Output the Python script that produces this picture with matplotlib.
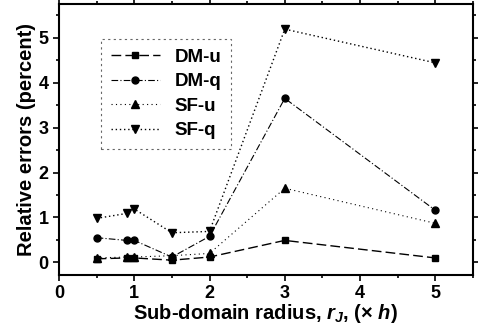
import numpy as np
import matplotlib.pyplot as plt
from matplotlib.ticker import MultipleLocator

plt.rcParams['font.family'] = ['Liberation Sans', 'DejaVu Sans']
plt.rcParams['font.weight'] = 'bold'
plt.rcParams['axes.labelweight'] = 'bold'
plt.rcParams['mathtext.fontset'] = 'custom'
plt.rcParams['mathtext.rm'] = 'Liberation Sans:bold'
plt.rcParams['mathtext.it'] = 'Liberation Sans:italic:bold'

# data
radius = [0.5, 0.9, 1.0, 1.5, 2.0, 3.0, 5.0]
dm_u = [0.08, 0.10, 0.10, 0.05, 0.12, 0.49, 0.10]
dm_q = [0.55, 0.49, 0.49, 0.12, 0.58, 3.65, 1.16]
sf_u = [0.10, 0.12, 0.12, 0.15, 0.20, 1.65, 0.87]
sf_q = [0.98, 1.09, 1.19, 0.66, 0.69, 5.19, 4.44]

fig = plt.figure(figsize=(4.78, 3.25), dpi=100)
ax = fig.add_axes([0.1234, 0.1538, 0.866, 0.834])

ax.plot(radius, dm_u, color='k', marker='s', ms=4, lw=1, ls=(0, (7, 3)), label='DM-u')
ax.plot(radius, dm_q, color='k', marker='o', ms=5, lw=0.8, ls=(0, (6, 2, 1, 2)), label='DM-q')
ax.plot(radius, sf_u, color='k', marker='^', ms=6, lw=0.8, ls=(0, (1, 3)), label='SF-u')
ax.plot(radius, sf_q, color='k', marker='v', ms=6, lw=1, ls=(0, (1, 2)), label='SF-q')

ax.set_xlim(0, 5.5)
ax.set_ylim(-0.28, 5.75)
ax.xaxis.set_major_locator(MultipleLocator(1))
ax.xaxis.set_minor_locator(MultipleLocator(0.5))
ax.yaxis.set_major_locator(MultipleLocator(1))
ax.yaxis.set_minor_locator(MultipleLocator(0.5))
ax.tick_params(which='both', top=True, right=True, width=1.2)
ax.tick_params(which='major', length=4, labelsize=13)
ax.tick_params(which='minor', length=2)
for lab in ax.get_xticklabels() + ax.get_yticklabels():
    lab.set_fontweight('bold')
for s in ax.spines.values():
    s.set_linewidth(1.5)

ax.set_xlabel('Sub-domain radius, $r_J$, (\u00d7 $h$)', fontsize=14.5, labelpad=0)
ax.set_ylabel('Relative errors (percent)', fontsize=14.5, labelpad=2)

leg = ax.legend(loc='upper left', bbox_to_anchor=(0.08, 0.905), fontsize=13.5,
                handlelength=2.6, labelspacing=0.4, borderpad=0.5,
                fancybox=False, framealpha=1)
leg.get_frame().set_edgecolor('0.4')
leg.get_frame().set_linestyle((0, (2, 3)))
leg.get_frame().set_linewidth(0.8)

plt.savefig('out.png', dpi=100)
